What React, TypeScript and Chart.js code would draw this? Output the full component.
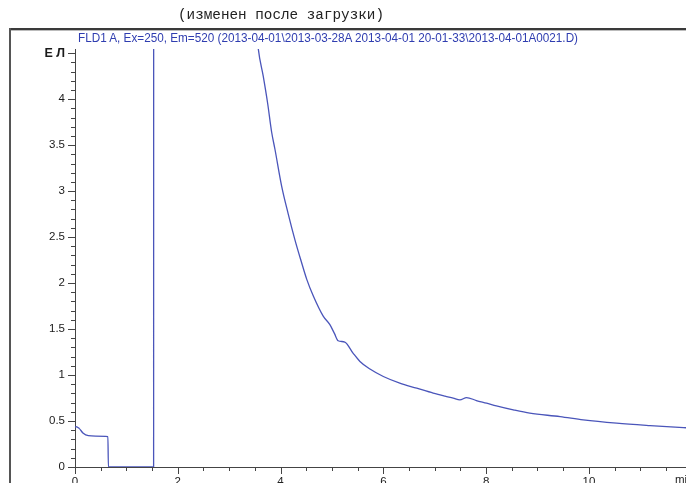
import React, { useEffect, useLayoutEffect, useRef } from "react";
import { Chart, registerables } from "chart.js";

Chart.register(...registerables);

const headerText = "(изменен после загрузки)";
const traceTitle =
  "FLD1 A, Ex=250, Em=520 (2013-04-01\\2013-03-28A 2013-04-01 20-01-33\\2013-04-01A0021.D)";
const yUnitLabel = "Е Л";
const xUnitLabel = "min";

const timeMin = [
  0, 0.02, 0.08, 0.16, 0.26, 0.4, 0.64, 0.65, 1.53, 1.54, 3.0, 3.4, 3.566, 3.663, 3.75,
  3.827, 3.891, 4.021, 4.15, 4.28, 4.4, 4.51, 4.64, 4.83, 4.96, 5.05, 5.12, 5.25, 5.41,
  5.545, 5.74, 6.0, 6.32, 6.65, 6.97, 7.2, 7.36, 7.49, 7.62, 7.81, 8.01, 8.2, 8.53, 8.85,
  9.44, 9.89, 10.54, 11.19, 11.84, 11.95,
];
const signalLU = [
  0.43, 0.44, 0.42, 0.367, 0.34, 0.335, 0.33, 0, 0, 60, 12, 5.6, 4.55, 4.25, 3.95, 3.64,
  3.455, 3.055, 2.75, 2.47, 2.24, 2.04, 1.856, 1.64, 1.548, 1.45, 1.373, 1.359, 1.239,
  1.148, 1.065, 0.984, 0.912, 0.857, 0.803, 0.77, 0.749, 0.73, 0.755, 0.723, 0.694, 0.665,
  0.621, 0.585, 0.548, 0.512, 0.476, 0.45, 0.428, 0.425,
];
const xTickValues = [0, 2, 4, 6, 8, 10];
const yTickValues = [0, 0.5, 1, 1.5, 2, 2.5, 3, 3.5, 4, 4.5];

const X_MAX = 11.89;
const Y_MAX = 4.545;

const minorTicks = {
  id: "minorTicks",
  afterDraw(chart: any) {
    const ctx = chart.ctx;
    const xs = chart.scales.x;
    const ys = chart.scales.y;
    const area = chart.chartArea;
    ctx.save();
    ctx.strokeStyle = "#444";
    ctx.lineWidth = 1;
    ctx.beginPath();
    for (let i = 0; i * 0.5 <= X_MAX; i++) {
      const v = i * 0.5;
      const px = Math.round(xs.getPixelForValue(v)) + 0.5;
      const len = i % 4 === 0 ? 7 : 4;
      ctx.moveTo(px, area.bottom);
      ctx.lineTo(px, area.bottom + len);
    }
    for (let i = 0; i <= 45; i++) {
      const v = i * 0.1;
      const py = Math.round(ys.getPixelForValue(v)) + 0.5;
      const len = i % 5 === 0 ? 7 : 4;
      ctx.moveTo(area.left, py);
      ctx.lineTo(area.left - len, py);
    }
    ctx.stroke();
    ctx.restore();
  },
};

function FitText({ text, width, style }: { text: string; width: number; style: any }) {
  const ref = useRef<HTMLSpanElement>(null);
  useLayoutEffect(() => {
    const el = ref.current;
    if (!el) return;
    el.style.transform = "none";
    const w = el.getBoundingClientRect().width;
    if (w > 0) el.style.transform = `scaleX(${width / w})`;
  }, [text, width]);
  return (
    <span
      ref={ref}
      style={{ ...style, display: "inline-block", whiteSpace: "nowrap", transformOrigin: "0 0" }}
    >
      {text}
    </span>
  );
}

export default function App() {
  const canvasRef = useRef<HTMLCanvasElement>(null);

  useEffect(() => {
    const canvas = canvasRef.current;
    if (!canvas) return;
    const points = timeMin.map((t, i) => ({ x: t, y: signalLU[i] }));
    const chart = new Chart(canvas, {
      type: "line",
      data: {
        datasets: [
          {
            data: points,
            borderColor: "#4a55ba",
            borderWidth: 1.3,
            pointRadius: 0,
            cubicInterpolationMode: "monotone",
            fill: false,
          },
        ],
      },
      options: {
        responsive: false,
        animation: false,
        layout: { padding: { top: 49, left: 0, right: 0, bottom: 0 } },
        plugins: { legend: { display: false }, tooltip: { enabled: false }, title: { display: false } },
        scales: {
          x: {
            type: "linear",
            min: 0,
            max: X_MAX,
            afterFit: (s: any) => {
              s.height = 16;
            },
            afterBuildTicks: (s: any) => {
              s.ticks = xTickValues.map((v) => ({ value: v }));
            },
            grid: {
              display: true,
              drawOnChartArea: false,
              drawTicks: true,
              tickLength: 8,
              tickColor: "rgba(0,0,0,0)",
            },
            border: { display: true, color: "#444", width: 1 },
            ticks: {
              padding: 0,
              maxRotation: 0,
              autoSkip: false,
              color: "#222",
              font: { family: "'Liberation Sans', Arial, sans-serif", size: 11.5 },
              callback: (v: any) => String(v),
            },
          },
          y: {
            type: "linear",
            min: 0,
            max: Y_MAX,
            afterFit: (s: any) => {
              s.width = 75;
            },
            afterBuildTicks: (s: any) => {
              s.ticks = yTickValues.map((v) => ({ value: v }));
            },
            grid: {
              display: true,
              drawOnChartArea: false,
              drawTicks: true,
              tickLength: 8,
              tickColor: "rgba(0,0,0,0)",
            },
            border: { display: true, color: "#444", width: 1 },
            ticks: {
              padding: 2,
              autoSkip: false,
              color: "#1a1a1a",
              font: (c: any) =>
                c.tick && Math.abs(c.tick.value - 4.5) < 1e-6
                  ? { family: "'Liberation Sans', Arial, sans-serif", size: 12.5, weight: "bold" }
                  : { family: "'Liberation Sans', Arial, sans-serif", size: 11.5 },
              callback: (v: any) => (Math.abs(v - 4.5) < 1e-6 ? yUnitLabel : String(v)),
            },
          },
        },
      },
      plugins: [minorTicks],
    });
    return () => chart.destroy();
  }, []);

  return (
    <div
      style={{
        position: "fixed",
        left: 0,
        top: 0,
        width: 686,
        height: 483,
        overflow: "hidden",
        background: "#fff",
      }}
    >
      <canvas ref={canvasRef} width={686} height={483} style={{ position: "absolute", left: 0, top: 0 }} />
      <div style={{ position: "absolute", left: 10, top: 28, width: 676, height: 2, background: "#3a3a3a" }} />
      <div style={{ position: "absolute", left: 10, top: 30, width: 676, height: 1, background: "#bbb" }} />
      <div style={{ position: "absolute", left: 9, top: 28, width: 2, height: 455, background: "#555" }} />
      <div style={{ position: "absolute", left: 178, top: 5, lineHeight: "18px" }}>
        <FitText
          text={headerText}
          width={206}
          style={{ fontFamily: "'Liberation Mono', 'Courier New', monospace", fontSize: 14.3, color: "#222" }}
        />
      </div>
      <div style={{ position: "absolute", left: 78, top: 30, lineHeight: "14px" }}>
        <FitText
          text={traceTitle}
          width={500}
          style={{ fontFamily: "'Liberation Sans', Arial, sans-serif", fontSize: 12, color: "#2f3db0" }}
        />
      </div>
      <div
        style={{
          position: "absolute",
          left: 675,
          top: 473,
          fontFamily: "'Liberation Sans', Arial, sans-serif",
          fontSize: 11.5,
          color: "#222",
          lineHeight: "13px",
        }}
      >
        {xUnitLabel}
      </div>
    </div>
  );
}
